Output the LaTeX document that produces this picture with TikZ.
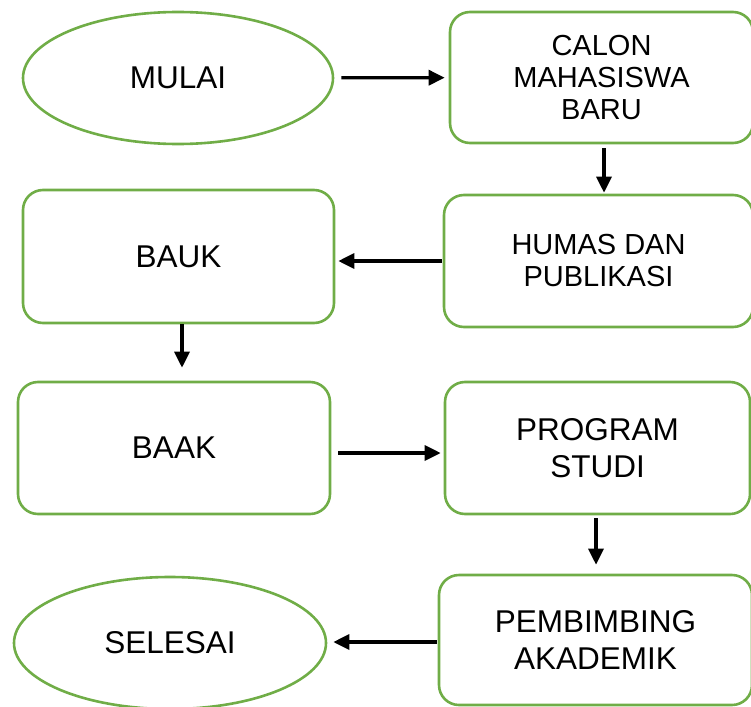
\documentclass[tikz,border=0pt]{standalone}
\usepackage{fontspec}
\setmainfont{Liberation Sans}
\usepackage{tikz}
\usetikzlibrary{shapes.geometric}
\usetikzlibrary{positioning}
\usetikzlibrary{calc}
\usetikzlibrary{arrows.meta}
\definecolor{green}{RGB}{112,173,71}

\begin{document}
\begin{tikzpicture}[x=1pt, y=-1pt,
  oval/.style={ellipse, draw=green, line width=2.6pt, minimum width=310pt,
    minimum height=132pt, inner sep=0pt, font=\fontsize{31.5}{37.5}\selectfont},
  box/.style={rectangle, rounded corners=20pt, draw=green, line width=2.6pt,
    minimum height=132pt, inner sep=0pt, align=center,
    font=\fontsize{31.5}{37.5}\selectfont},
  smalltext/.style={font=\fontsize{29}{32}\selectfont},
  flow/.style={line width=3.3pt, -{Triangle[length=16pt,width=15pt]}}
]

\useasboundingbox (0,0) rectangle (751,706);

%---------------------------------------
% Start and end
%---------------------------------------
\node[oval] (mulai) at (178,78) {MULAI};
\node[oval, minimum width=312pt] (selesai) at (170,643) {SELESAI};

%---------------------------------------
% Units
%---------------------------------------
\node[box, smalltext, minimum width=303pt, minimum height=131pt] (calon) at (601.5,77.5) {CALON\\MAHASISWA\\BARU};
\node[box, smalltext, minimum width=309pt] (humas) at (598.5,261) {HUMAS DAN\\PUBLIKASI};
\node[box, minimum width=311pt, minimum height=133pt] (bauk) at (178.5,256.5) {BAUK};
\node[box, minimum width=312pt] (baak) at (174,448) {BAAK};
\node[box, minimum width=305pt] (prodi) at (597.5,448) {PROGRAM\\STUDI};
\node[box, minimum width=313pt, minimum height=130pt] (pa) at (595.5,640) {PEMBIMBING\\AKADEMIK};

%---------------------------------------
% Flow
%---------------------------------------
\draw[flow, shorten <=7pt, shorten >=4pt] (mulai) -- (calon);
\draw[flow, shorten <=4pt, shorten >=1pt] ([xshift=2.5pt]calon.south) -- ([xshift=2.5pt]calon.south |- humas.north);
\draw[flow, shorten <=1pt, shorten >=3pt] (humas.west) -- (humas.west -| bauk.east);
\draw[flow, shorten >=13pt] ([xshift=3.5pt]bauk.south) -- ([xshift=3.5pt]bauk.south |- baak.north);
\draw[flow, shorten <=7pt, shorten >=3pt] ([yshift=-5pt]baak.east) -- ([yshift=-5pt]baak.east -| prodi.west);
\draw[flow, shorten <=3pt, shorten >=9pt] ([xshift=-1.5pt]prodi.south) -- ([xshift=-1.5pt]prodi.south |- pa.north);
\draw[flow, shorten <=1pt, shorten >=6pt] ([yshift=-2pt]pa.west) -- ([yshift=-2pt]pa.west -| selesai.east);

\end{tikzpicture}
\end{document}
